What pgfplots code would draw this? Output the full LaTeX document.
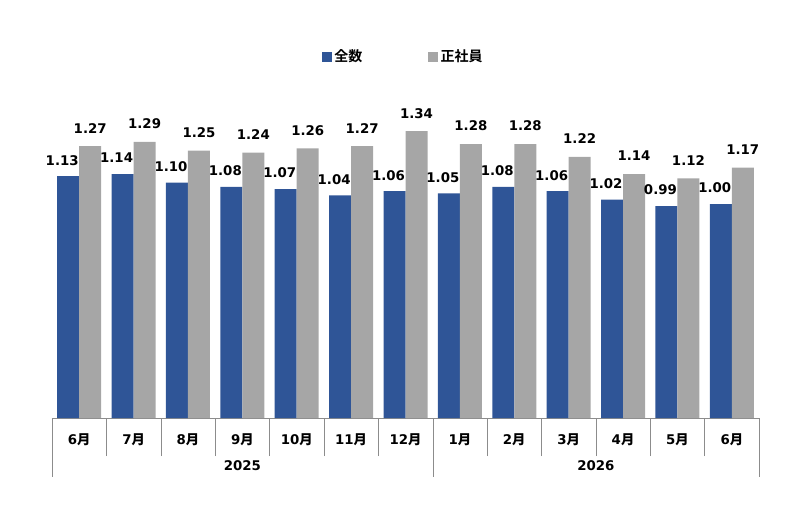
\documentclass[border=0pt]{standalone}
\usepackage{pgfplots}
\pgfplotsset{compat=1.18}
\usepackage{fontspec}
\setmainfont{DejaVu Sans}
\newfontfamily\jp{Noto Sans CJK JP Bold}
\definecolor{cblue}{RGB}{47,85,151}
\definecolor{cgray}{RGB}{166,166,166}
\definecolor{cline}{RGB}{140,140,140}
\begin{document}
\begin{tikzpicture}[x=0.75pt,y=0.75pt]
\useasboundingbox (0,0) rectangle (800,508);
\begin{axis}[
  at={(52pt*0.75,90pt*0.75)}, anchor=south west,
  scale only axis,
  width=530.25pt, height=240.75pt,
  ymin=0, ymax=1.5,
  xmin=-0.5, xmax=12.5,
  axis y line=none,
  axis x line*=bottom,
  x axis line style={draw=cline, -},
  ybar=0pt, bar width=16.5pt,
  clip=false,
  xtick={0,...,12},
  xticklabels={6{\jp 月},7{\jp 月},8{\jp 月},9{\jp 月},10{\jp 月},11{\jp 月},12{\jp 月},1{\jp 月},2{\jp 月},3{\jp 月},4{\jp 月},5{\jp 月},6{\jp 月}},
  major x tick style={draw=none},
  minor xtick={-0.5,0.5,...,12.5},
  minor x tick style={draw=cline},
  minor tick length=28.5pt,
  tick align=outside,
  xticklabel style={font=\fontsize{10}{12}\selectfont\bfseries, yshift=-4pt},
  extra x ticks={-0.5,6.5,12.5},
  extra x tick labels={},
  extra x tick style={major tick length=44pt, major x tick style={draw=cline}},
  nodes near coords={\pgfmathprintnumber[fixed,zerofill,precision=2,assume math mode=true]{\pgfplotspointmeta}},
  nodes near coords style={font=\fontsize{10}{12}\selectfont\bfseries, anchor=center},
  legend style={draw=none, at={(0.497,1.125)}, anchor=center, font=\fontsize{10.5}{12}\selectfont\jp, legend columns=2,
    /tikz/every even column/.append style={column sep=47pt}},
  legend image code/.code={\fill[#1] (0pt,-3.8pt) rectangle (7.6pt,3.8pt);},
]
\addplot[fill=cblue, draw=none, nodes near coords style={xshift=-4.5pt, yshift=12pt}] coordinates {
(0,1.13) (1,1.14) (2,1.10) (3,1.08) (4,1.07) (5,1.04) (6,1.06)
(7,1.05) (8,1.08) (9,1.06) (10,1.02) (11,0.99) (12,1.00)};
\addlegendentry{全数}
\addplot[fill=cgray, draw=none, nodes near coords style={yshift=13.5pt}] coordinates {
(0,1.27) (1,1.29) (2,1.25) (3,1.24) (4,1.26) (5,1.27) (6,1.34)
(7,1.28) (8,1.28) (9,1.22) (10,1.14) (11,1.12) (12,1.17)};
\addlegendentry{正社員}
\node[font=\fontsize{10}{12}\selectfont\bfseries] at (axis cs:3,0) [yshift=-36pt] {2025};
\node[font=\fontsize{10}{12}\selectfont\bfseries] at (axis cs:9.5,0) [yshift=-36pt] {2026};
\end{axis}
\end{tikzpicture}
\end{document}
